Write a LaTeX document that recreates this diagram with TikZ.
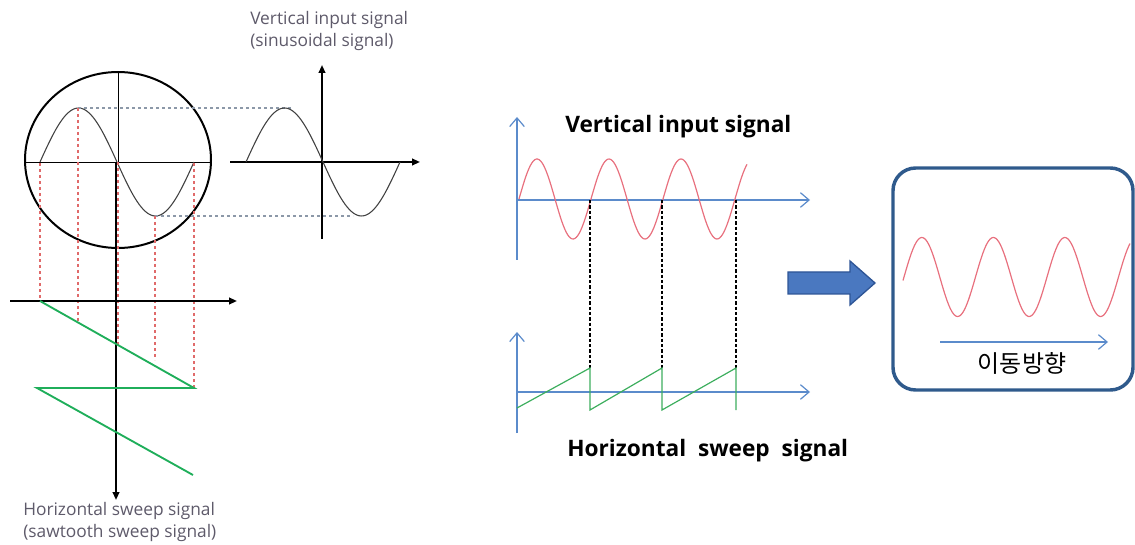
\documentclass[tikz,border=0pt]{standalone}
\usepackage{fontspec}
\setmainfont{Open Sans}
\newfontfamily\kr{Noto Sans CJK KR}
\usetikzlibrary{arrows.meta}
\definecolor{axblue}{HTML}{5B8BCB}
\definecolor{sinred}{HTML}{E8707E}
\definecolor{dashred}{HTML}{E06A6A}
\definecolor{dashgrey}{HTML}{8C98A8}
\definecolor{sawgreen}{HTML}{1FAE5A}
\definecolor{sawgreen2}{HTML}{3DAE5E}
\definecolor{boxblue}{HTML}{2F5A8C}
\definecolor{arrfill}{HTML}{4A78C0}
\definecolor{arredge}{HTML}{2E5596}
\definecolor{greytext}{HTML}{5E5A6A}
\tikzset{
  blkaxis/.style={black, line width=1.4pt, -{Triangle[length=6pt,width=5pt]}},
  thinax/.style={black, line width=0.7pt},
  blueaxis/.style={axblue, line width=0.9pt, -{Straight Barb[length=6.5pt,width=11pt]}},
  reddash/.style={dashred, line width=0.8pt, dash pattern=on 2.5pt off 2pt},
  greydash/.style={dashgrey, line width=0.8pt, dash pattern=on 2.5pt off 2pt},
  blkdash/.style={black, line width=0.8pt, dash pattern=on 2.5pt off 1.5pt},
  sinewave/.style={black!75, line width=0.8pt},
  redwave/.style={sinred, line width=0.9pt},
  saw/.style={sawgreen, line width=1.4pt},
  saw2/.style={sawgreen2, line width=0.9pt},
  lighttext/.style={greytext, font=\fontsize{13}{15}\selectfont, anchor=west, inner sep=0pt},
  boldtext/.style={black, font=\fontsize{17}{19}\selectfont\bfseries, anchor=west, inner sep=0pt},
}
\begin{document}
\begin{tikzpicture}[x=0.75pt, y=-0.75pt]
\useasboundingbox (0,0) rectangle (1135,545);
% ---------- left: screen circle ----------
\draw[black, line width=1.5pt] (118,160) ellipse [x radius=93, y radius=88];
\draw[thinax] (25,162) -- (211,162);
\draw[thinax] (118,73) -- (118,162);
\draw[sinewave] plot[domain=40:194, samples=80] (\x, {162-54*sin((\x-40)/154*360)});
% grey dashed projections
\draw[greydash] (78,108) -- (293,108);
\draw[greydash] (155,216) -- (353,216);
% right small axes with sine
\draw[black, line width=1.4pt, -{Triangle[length=6pt,width=5pt]}] (230,162) -- (420,162);
\draw[black, line width=1.4pt, -{Triangle[length=6pt,width=5pt]}] (322,239) -- (322,65);
\draw[sinewave] plot[domain=246:400, samples=80] (\x, {162-54*sin((\x-246)/154*360)});
\node[lighttext] (vtitle1) at (250,20) {Vertical input signal};
\node[lighttext] (vtitle2) at (250,42) {(sinusoidal signal)};
% red dashed verticals
\draw[reddash] (40,163) -- (40,301);
\draw[reddash] (78,108) -- (78,323);
\draw[reddash] (155,216) -- (155,360);
\draw[reddash] (194,163) -- (194,388);
\draw[reddash] (118,162) -- (118,345);
% lower axes
\draw[blkaxis] (10,301) -- (237,301);
\draw[blkaxis] (116,162) -- (116,500);
% sawtooth
\draw[saw] (40,301) -- (194,388) -- (37,388) -- (193,475);
\node[lighttext] (htitle1) at (23,511) {Horizontal sweep signal};
\node[lighttext] (htitle2) at (23,533) {(sawtooth sweep signal)};
% ---------- middle ----------
\draw[blueaxis] (517,260) -- (517,117);
\draw[blueaxis] (517,200) -- (810,200);
\draw[redwave] plot[domain=519:747, samples=160] (\x, {199-40*sin((\x-519)/72*360)});
\node[boldtext] (mtitle) at (565,127) {Vertical input signal};
\draw[blkdash] (590,200) -- (590,368);
\draw[blkdash] (662,200) -- (662,368);
\draw[blkdash] (736,200) -- (736,368);
\draw[blueaxis] (517,433) -- (517,332);
\draw[blueaxis] (517,392) -- (810,392);
\draw[saw2] (517,408) -- (590,368) -- (590,410) -- (662,368) -- (662,410) -- (736,368) -- (736,410);
\node[boldtext] (btitle) at (567,451) {Horizontal\ \ sweep\ \ signal};
% block arrow
\draw[arredge, fill=arrfill, line width=1pt, line join=miter]
  (788,272) -- (850,272) -- (850,261) -- (875,283) -- (850,305) -- (850,294) -- (788,294) -- cycle;
% ---------- right box ----------
\draw[boxblue, line width=2.6pt, rounded corners=17pt] (893,168) rectangle (1133,390);
\draw[redwave] plot[domain=903:1130, samples=160] (\x, {277-39.5*sin((\x-904)/71.5*360)});
\draw[blueaxis] (940,342) -- (1108,342);
\node[black, font=\kr\fontsize{18}{20}\selectfont, inner sep=0pt] (dir) at (1022,363) {이동방향};
\end{tikzpicture}
\end{document}
